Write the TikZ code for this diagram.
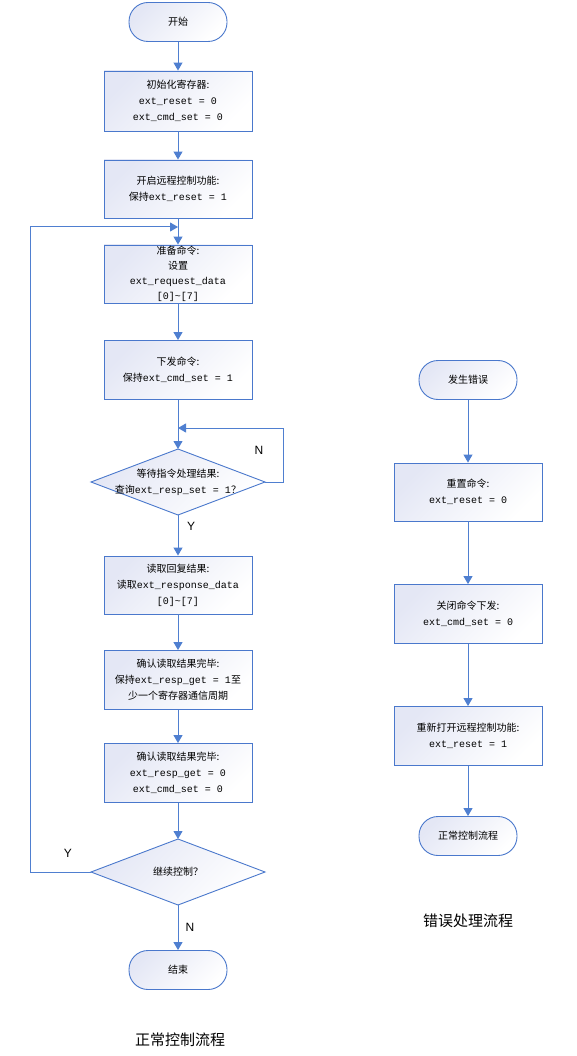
\documentclass[tikz,border=0pt]{standalone}
\usepackage{fontspec}
\setmainfont{Liberation Sans}
\newfontfamily\cjk{Noto Sans CJK SC}
\newfontfamily\mono{Liberation Mono}
\usetikzlibrary{arrows.meta,calc}
\definecolor{edgeblue}{HTML}{4A78CC}
\definecolor{lineblue}{HTML}{4F7FD0}
\definecolor{lav}{HTML}{E4E7F5}
\begin{document}
\begin{tikzpicture}[x=1pt,y=-1pt,
  base/.style={draw=edgeblue,line width=0.9pt,top color=lav,bottom color=white,shading angle=45,
    align=center,inner sep=1pt,font=\fontsize{10}{16}\selectfont},
  procbox/.style={base,rectangle,minimum width=148pt,minimum height=59pt},
  termbox/.style={base,rectangle,rounded corners=19pt,minimum width=98pt,minimum height=39pt},
  arr/.style={draw=lineblue,line width=1pt,-{Triangle[length=8pt,width=9pt]}},
  yn/.style={font=\fontsize{12}{12}\selectfont},
  ttl/.style={font=\cjk\fontsize{15}{15}\selectfont}
]
\useasboundingbox (0,0) rectangle (576,1056);

% left flow
\node[termbox] (start) at (178,22) {\cjk 开始};
\node[procbox,minimum height=60pt] (b1) at (178,101) {{\cjk 初始化寄存器:}\\{\mono ext\_reset = 0}\\{\mono ext\_cmd\_set = 0}};
\node[procbox,minimum height=58pt] (b2) at (178,189) {{\cjk 开启远程控制功能:}\\{\cjk 保持}{\mono ext\_reset = 1}};
\node[procbox,minimum height=58pt,inner sep=0pt,font=\fontsize{10}{15}\selectfont] (b3) at (178,274) {{\cjk 准备命令:}\\{\cjk 设置}\\{\mono ext\_request\_data}\\{\mono [0]\textasciitilde[7]}};
\node[procbox] (b4) at (178,370) {{\cjk 下发命令:}\\{\cjk 保持}{\mono ext\_cmd\_set = 1}};

% diamond 1
\coordinate (d1c) at (178,482);
\coordinate (d1n) at (178,449);
\coordinate (d1s) at (178,515);
\coordinate (d1w) at (91,482);
\coordinate (d1e) at (265,482);
\shade[top color=lav,bottom color=white,shading angle=45] (d1n) -- (d1e) -- (d1s) -- (d1w) -- cycle;
\draw[edgeblue,line width=0.9pt] (d1n) -- (d1e) -- (d1s) -- (d1w) -- cycle;
\node[align=center,font=\fontsize{10}{16}\selectfont] (d1) at (d1c) {{\cjk 等待指令处理结果:}\\{\cjk 查询}{\mono ext\_resp\_set = 1}{\cjk ？}};

\node[procbox,minimum height=58pt] (b5) at (178,585) {{\cjk 读取回复结果:}\\{\cjk 读取}{\mono ext\_response\_data}\\{\mono [0]\textasciitilde[7]}};
\node[procbox] (b6) at (178,680) {{\cjk 确认读取结果完毕:}\\{\cjk 保持}{\mono ext\_resp\_get = 1}{\cjk 至}\\{\cjk 少一个寄存器通信周期}};
\node[procbox] (b7) at (178,773) {{\cjk 确认读取结果完毕:}\\{\mono ext\_resp\_get = 0}\\{\mono ext\_cmd\_set = 0}};

% diamond 2
\coordinate (d2c) at (178,872);
\coordinate (d2n) at (178,839);
\coordinate (d2s) at (178,905);
\coordinate (d2w) at (91,872);
\coordinate (d2e) at (265,872);
\shade[top color=lav,bottom color=white,shading angle=45] (d2n) -- (d2e) -- (d2s) -- (d2w) -- cycle;
\draw[edgeblue,line width=0.9pt] (d2n) -- (d2e) -- (d2s) -- (d2w) -- cycle;
\node[font=\fontsize{10}{16}\selectfont] (d2) at (d2c) {\cjk 继续控制？};

\node[termbox] (end) at (178,970) {\cjk 结束};
\node[ttl] (t1) at (180,1040) {正常控制流程};

% left connectors
\draw[arr] (start) -- (b1);
\draw[arr] (b1) -- (b2);
\draw[arr] (b2) -- (b3);
\draw[arr] (b3) -- (b4);
\draw[arr] (b4) -- (d1n);
\draw[arr] (d1s) -- (b5);
\draw[arr] (b5) -- (b6);
\draw[arr] (b6) -- (b7);
\draw[arr] (b7) -- (d2n);
\draw[arr] (d2s) -- (end);
\coordinate (loopN) at (178,428);
\coordinate (loopY) at (178,227);
\draw[arr] (d1e) -- (283,482) |- (loopN);
\draw[arr] (d2w) -- (30,872) |- (loopY);

\node[yn] (lN1) at (259,450) {N};
\node[yn] (lY1) at (191,526) {Y};
\node[yn] (lY2) at (68,853) {Y};
\node[yn] (lN2) at (190,927) {N};

% right flow
\node[termbox] (rs) at (468,380) {\cjk 发生错误};
\node[procbox,minimum height=58pt] (r1) at (468,492) {{\cjk 重置命令:}\\{\mono ext\_reset = 0}};
\node[procbox] (r2) at (468,614) {{\cjk 关闭命令下发:}\\{\mono ext\_cmd\_set = 0}};
\node[procbox] (r3) at (468,736) {{\cjk 重新打开远程控制功能:}\\{\mono ext\_reset = 1}};
\node[termbox] (re) at (468,836) {\cjk 正常控制流程};
\node[ttl] (t2) at (468,921) {错误处理流程};

\draw[arr] (rs) -- (r1);
\draw[arr] (r1) -- (r2);
\draw[arr] (r2) -- (r3);
\draw[arr] (r3) -- (re);
\end{tikzpicture}
\end{document}
